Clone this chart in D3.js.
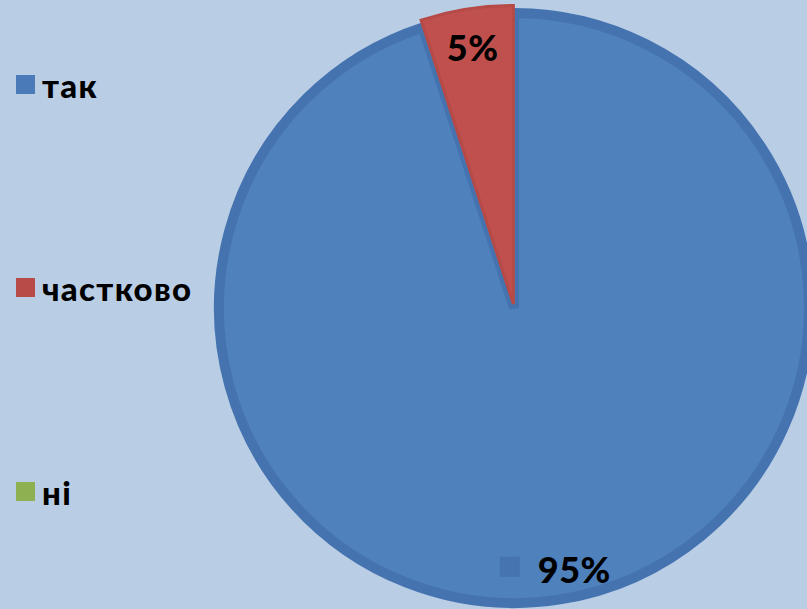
<!DOCTYPE html>
<html><head><meta charset="utf-8">
<script src="https://cdn.jsdelivr.net/npm/d3@7/dist/d3.min.js"></script>
<style>html,body{margin:0;padding:0;background:#b9cde5;}svg{display:block;}</style>
</head><body>
<script>
const categories = ["так", "частково", "ні"];
const values = [95, 5, 0];
const labels = ["95%", "5%", ""];
const colors = ["#4f81bd", "#c0504d", "#9bbb59"];
const strokeColors = ["#4573b0", "#b54a47", "#86a64a"];
const legendColors = ["#4a7ab8", "#b84b48", "#8fb050"];

const W = 807, H = 609;
const svg = d3.select("body").append("svg").attr("width", W).attr("height", H);
svg.append("rect").attr("width", W).attr("height", H).attr("fill", "#b9cde5");

const cx = 514, cy = 308, R = 300;
const pie = d3.pie().sort(null).value(d => d).startAngle(0).endAngle(2 * Math.PI);
const arcsData = pie(values);
const g = svg.append("g").attr("transform", `translate(${cx},${cy})`);
const explode = [0, 4, 0];
const strokeW = [10, 3, 3];
arcsData.forEach((a, i) => {
  if (a.endAngle - a.startAngle <= 0) return;
  const arc = d3.arc().innerRadius(0).outerRadius(R - strokeW[i] / 2);
  const mid = (a.startAngle + a.endAngle) / 2;
  const ox = Math.sin(mid) * explode[i], oy = -Math.cos(mid) * explode[i];
  g.append("path")
    .attr("d", arc(a))
    .attr("transform", `translate(${ox},${oy})`)
    .attr("fill", colors[i])
    .attr("stroke", strokeColors[i])
    .attr("stroke-width", strokeW[i])
    .attr("stroke-linejoin", "miter");
});

// data labels
const labelR = 264;
arcsData.forEach((a, i) => {
  if (!labels[i]) return;
  const mid = (a.startAngle + a.endAngle) / 2;
  const x = Math.sin(mid) * labelR, y = -Math.cos(mid) * labelR;
  const lg = g.append("g").attr("transform", `translate(${x},${y})`);
  const t = lg.append("text").text(labels[i])
    .attr("font-family", "Lato, 'DejaVu Sans', sans-serif")
    .attr("font-weight", "900")
    .attr("font-size", 36)
    .attr("letter-spacing", 0.5)
    .attr("fill", "#000")
    .attr("dominant-baseline", "central");
  const tw = t.node().getComputedTextLength();
  if (i === 0) {
    const key = 20, gap = 18;
    const total = key + gap + tw;
    lg.append("rect").attr("x", -total / 2).attr("y", -key / 2 - 2).attr("width", key).attr("height", key)
      .attr("fill", "#4674b0");
    t.attr("x", -total / 2 + key + gap);
  } else {
    t.attr("text-anchor", "middle");
  }
});

// legend
const legendY = [85, 288, 492];
categories.forEach((c, i) => {
  svg.append("rect").attr("x", 16).attr("y", legendY[i] - 10).attr("width", 19).attr("height", 19)
    .attr("fill", legendColors[i]);
  svg.append("text").attr("x", 42).attr("y", legendY[i]).text(c)
    .attr("font-family", "Lato, 'DejaVu Sans', sans-serif")
    .attr("font-weight", "900")
    .attr("font-size", 33)
    .attr("letter-spacing", 1.3)
    .attr("fill", "#000")
    .attr("dominant-baseline", "central");
});
</script>
</body></html>
